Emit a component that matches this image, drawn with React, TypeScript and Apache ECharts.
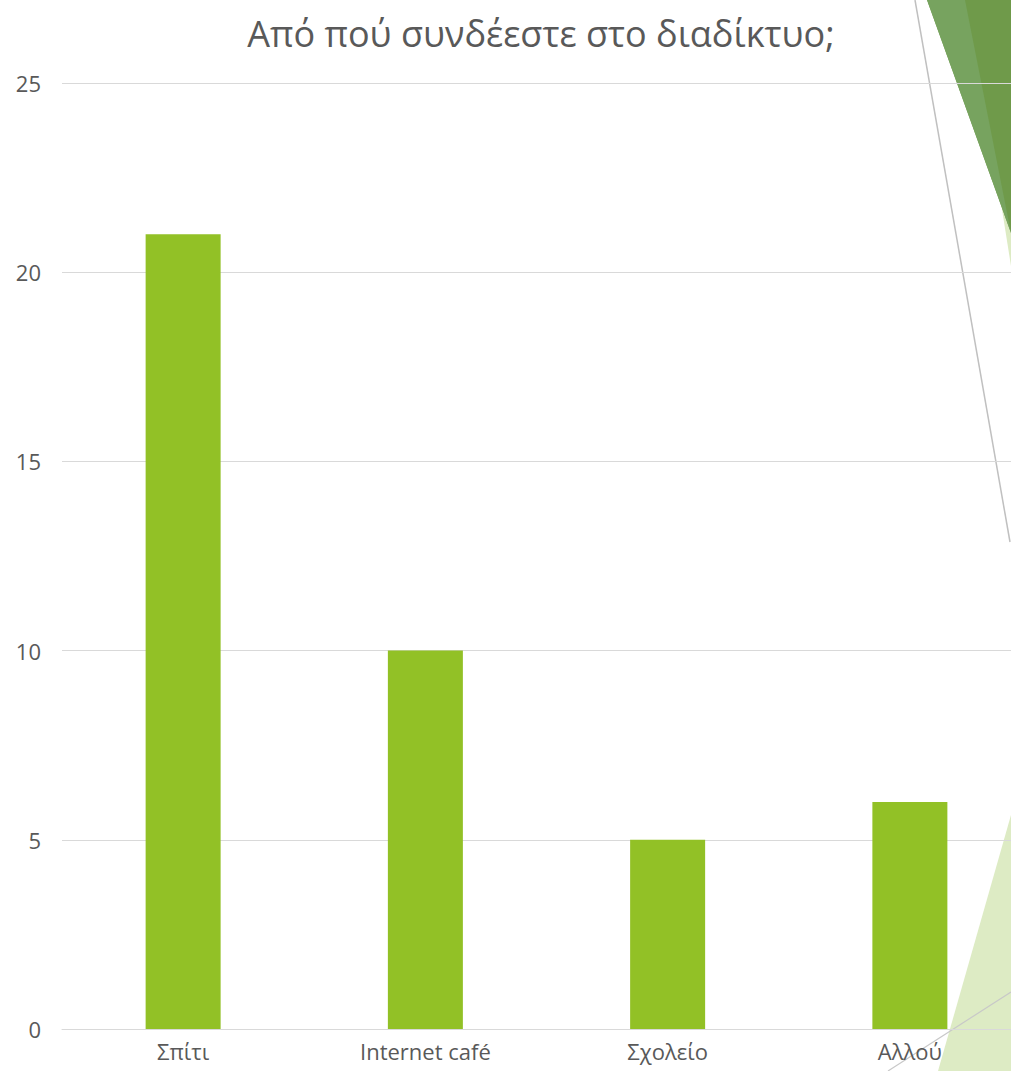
import React, { useEffect, useRef } from "react";
import * as echarts from "echarts";

const categories = ["Σπίτι", "Internet café", "Σχολείο", "Αλλού"];
const values = [21, 10, 5, 6];
const titleText = "Από πού συνδέεστε στο διαδίκτυο;";

export default function App() {
  const ref = useRef<HTMLDivElement>(null);
  useEffect(() => {
    if (!ref.current) return;
    const chart = echarts.init(ref.current, undefined, { renderer: "svg" });
    const font = "'Open Sans', 'DejaVu Sans', sans-serif";
    chart.setOption({
      animation: false,
      backgroundColor: "#ffffff",
      title: {
        text: titleText,
        left: 536,
        textAlign: "center",
        top: 10,
        textStyle: { color: "#595959", fontSize: 36, fontWeight: "normal", fontFamily: font },
      },
      grid: { left: 62, top: 83, right: 9, bottom: 42, containLabel: false },
      xAxis: {
        type: "category",
        data: categories,
        axisLine: { show: true, lineStyle: { color: "#D9D9D9", width: 1 } },
        axisTick: { show: false },
        axisLabel: { color: "#595959", fontSize: 22, fontFamily: font, margin: 11 },
      },
      yAxis: {
        type: "value",
        min: 0,
        max: 25,
        interval: 5,
        axisLine: { show: false },
        axisTick: { show: false },
        splitLine: { lineStyle: { color: "#D9D9D9", width: 1 } },
        axisLabel: { color: "#595959", fontSize: 22, fontFamily: font, margin: 21 },
      },
      series: [
        {
          type: "bar",
          data: values,
          barWidth: 75,
          itemStyle: { color: "#92C126" },
        },
      ],
      graphic: [
        {
          type: "polygon",
          z: -1,
          shape: { points: [[991, 140], [1011, 140], [1011, 266]] },
          style: { fill: "#DDEBC4" },
        },
        {
          type: "polygon",
          z: -1,
          shape: { points: [[927, 0], [1011, 0], [1011, 233]] },
          style: { fill: "#6F9A4A" },
        },
        {
          type: "polygon",
          z: -1,
          shape: { points: [[927, 0], [965, 0], [1011, 233]] },
          style: { fill: "#77A35F" },
        },
        {
          type: "line",
          z: -1,
          shape: { x1: 915, y1: 0, x2: 1010, y2: 542 },
          style: { stroke: "#C0C0C0", lineWidth: 1.5 },
        },
        {
          type: "polygon",
          z: -1,
          shape: { points: [[1011, 815], [1011, 1071], [938, 1071]] },
          style: { fill: "#DDEBC4" },
        },
        {
          type: "line",
          z: -1,
          shape: { x1: 888, y1: 1071, x2: 1011, y2: 992 },
          style: { stroke: "#C8C8C8", lineWidth: 1.2 },
        },
      ],
    });
    return () => chart.dispose();
  }, []);
  return (
    <div
      style={{ position: "fixed", left: 0, top: 0, width: 1011, height: 1071, overflow: "hidden" }}
    >
      <div ref={ref} style={{ width: 1040, height: 1071 }} />
    </div>
  );
}
